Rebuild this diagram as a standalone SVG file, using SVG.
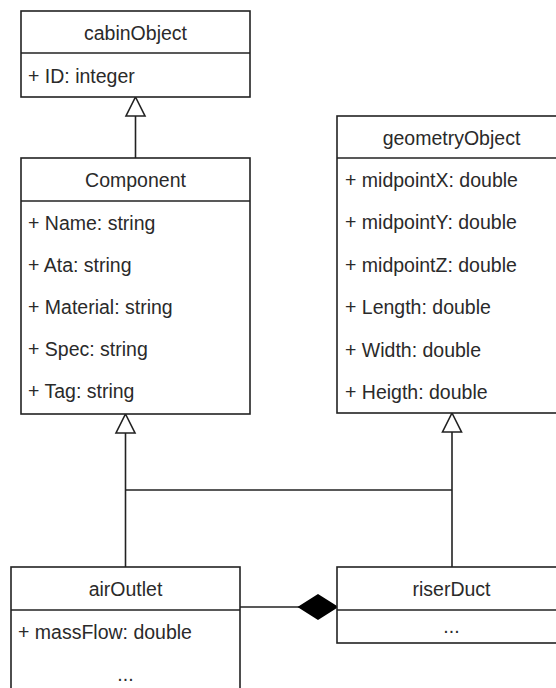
<svg xmlns="http://www.w3.org/2000/svg" width="556" height="688" viewBox="0 0 556 688">
<style>
.box{fill:#fff;stroke:#222;stroke-width:1.6}
.ln{fill:none;stroke:#222;stroke-width:1.6}
.t{font-family:"Liberation Sans",Arial,sans-serif;font-size:19.5px;fill:#2a2a2a}
.c{text-anchor:middle}
.tri{fill:#fff;stroke:#222;stroke-width:1.6}
.dia{fill:#000;stroke:#000;stroke-width:1.6}
</style>
<rect width="556" height="688" fill="#fff"/>
<g id="connectors">
<line class="ln" x1="135.5" y1="116" x2="135.5" y2="158"/>
<polygon class="tri" points="135.5,97 145,116 126,116"/>
<line class="ln" x1="125.5" y1="433" x2="125.5" y2="567"/>
<polygon class="tri" points="125.5,414 135,433 116,433"/>
<line class="ln" x1="452" y1="432" x2="452" y2="567"/>
<polygon class="tri" points="452,413 461.5,432 442.5,432"/>
<line class="ln" x1="125.5" y1="490" x2="452" y2="490"/>
<line class="ln" x1="240" y1="607" x2="300" y2="607"/>
<polygon class="dia" points="337,607 318,595 299,607 318,619"/>
</g>
<g id="cabinObject">
<rect class="box" x="21" y="11" width="229" height="86"/>
<line class="ln" x1="21" y1="53" x2="250" y2="53"/>
<text class="t c" x="135.5" y="40">cabinObject</text>
<text class="t" x="28" y="83">+ ID: integer</text>
</g>
<g id="Component">
<rect class="box" x="21" y="158" width="229" height="256"/>
<line class="ln" x1="21" y1="201" x2="250" y2="201"/>
<text class="t c" x="135.5" y="187">Component</text>
<text class="t" x="28" y="230">+ Name: string</text>
<text class="t" x="28" y="272">+ Ata: string</text>
<text class="t" x="28" y="314">+ Material: string</text>
<text class="t" x="28" y="356">+ Spec: string</text>
<text class="t" x="28" y="398">+ Tag: string</text>
</g>
<g id="geometryObject">
<rect class="box" x="337" y="116" width="229" height="297"/>
<line class="ln" x1="337" y1="158" x2="566" y2="158"/>
<text class="t c" x="451.5" y="145">geometryObject</text>
<text class="t" x="345" y="187">+ midpointX: double</text>
<text class="t" x="345" y="229">+ midpointY: double</text>
<text class="t" x="345" y="272">+ midpointZ: double</text>
<text class="t" x="345" y="314">+ Length: double</text>
<text class="t" x="345" y="357">+ Width: double</text>
<text class="t" x="345" y="399">+ Heigth: double</text>
</g>
<g id="airOutlet">
<rect class="box" x="11" y="567" width="229" height="140"/>
<line class="ln" x1="11" y1="610" x2="240" y2="610"/>
<text class="t c" x="125.5" y="596">airOutlet</text>
<text class="t" x="18" y="639">+ massFlow: double</text>
<text class="t c" x="125.5" y="681">...</text>
</g>
<g id="riserDuct">
<rect class="box" x="337" y="567" width="229" height="76"/>
<line class="ln" x1="337" y1="610" x2="566" y2="610"/>
<text class="t c" x="451.5" y="596">riserDuct</text>
<text class="t c" x="451.5" y="633">...</text>
</g>
</svg>
